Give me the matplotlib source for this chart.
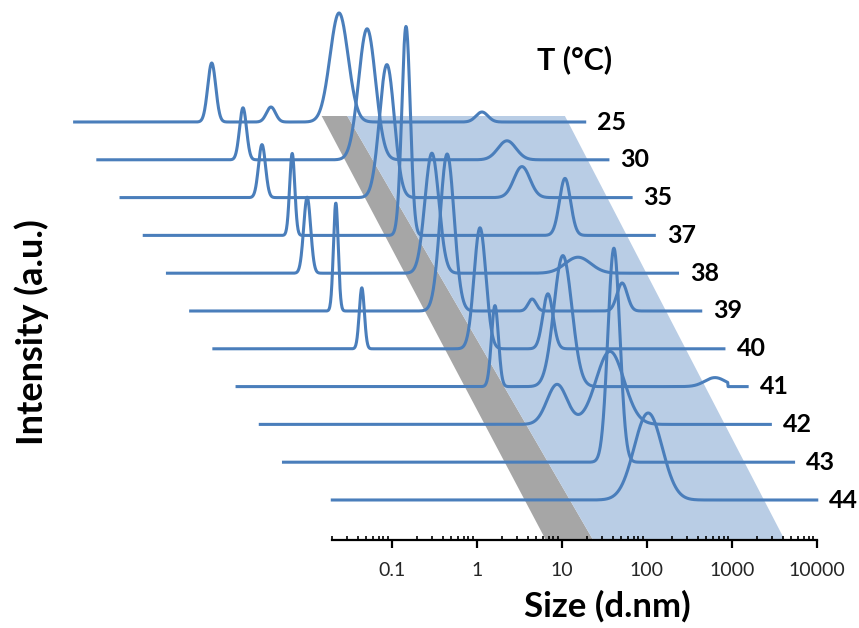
import numpy as np
import matplotlib.pyplot as plt

plt.rcParams['font.family'] = ['Lato', 'DejaVu Sans']

temps = ['25', '30', '35', '37', '38', '39', '40', '41', '42', '43', '44']

# peaks of each size distribution: (size in d.nm, intensity a.u., width in decades)
peaks = {
    '25': [(0.41, 59, 0.047), (2.04, 15, 0.053), (12.9, 109, 0.106), (619, 10, 0.07)],
    '30': [(0.51, 52, 0.041), (14.7, 131, 0.10), (650, 19, 0.106)],
    '35': [(0.455, 53, 0.041), (13.4, 133, 0.087), (520, 31, 0.094)],
    '37': [(0.55, 82, 0.03), (12.0, 209, 0.05), (890, 57, 0.065)],
    '38': [(0.44, 76, 0.041), (12.9, 120, 0.082), (675, 16, 0.15)],
    '39': [(0.51, 108, 0.028), (10.4, 157, 0.082), (104, 12, 0.047), (1190, 28, 0.06)],
    '40': [(0.55, 61, 0.03), (13.5, 121, 0.07), (85, 55, 0.06)],
    '41': [(10.8, 81, 0.041), (68, 131, 0.106), (4190, 9, 0.12)],
    '42': [(31, 40, 0.118), (130, 73, 0.165)],
    '43': [(77, 214, 0.07)],
    '44': [(104, 87, 0.165)],
}
# measured size window of each run (d.nm)
size_min = {t: 0.01 for t in temps}
size_min['44'] = 0.02
size_max = 10000
cutoff = {'41': 5960}

# waterfall offsets
row_step = 37.8
base0 = 40
shift_dec = 0.273

# shaded guide bands: sizes on the axis scale at the top and bottom edge
band_top = 424
grey_band = [(0.015, 0.03), (6.5, 23.4)]
blue_band = [(0.03, 10.9), (23.4, 4200)]

line_color = '#4a7ebb'

fig = plt.figure(figsize=(8.59, 6.28), dpi=100)
ax = fig.add_axes([0, 1 - 540 / 628, 1, 540 / 628])
ax.set_xscale('log')
ax.set_xlim(10 ** -5.608, 10 ** 4.497)
ax.set_ylim(0, 540)

for band, col in [(grey_band, '#a6a6a6'), (blue_band, '#b9cde5')]:
    (tl, tr), (bl, br) = band
    ax.fill([tl, tr, br, bl], [band_top, band_top, 0, 0], color=col, lw=0, zorder=1)

for i, t in enumerate(temps):
    depth = len(temps) - 1 - i
    factor = 10 ** (-depth * shift_dec)
    base = base0 + depth * row_step
    sizes = np.logspace(np.log10(size_min[t]), np.log10(size_max), 1500)
    inten = np.zeros_like(sizes)
    for s, h, w in peaks[t]:
        inten += h * np.exp(-0.5 * ((np.log10(sizes) - np.log10(s)) / w) ** 2)
    if t in cutoff:
        inten[sizes > cutoff[t]] = 0
    ax.plot(sizes * factor, base + inten, color=line_color, lw=2.2, zorder=3,
            solid_joinstyle='round')
    ax.annotate(t, (size_max * factor, base), xytext=(9, 0), textcoords='offset points',
                va='center', ha='left', fontsize=18, fontweight='bold')

for side in ['top', 'right', 'left']:
    ax.spines[side].set_visible(False)
ax.spines['bottom'].set_bounds(0.02, 10000)
ax.spines['bottom'].set_linewidth(1.6)
ax.set_yticks([])
ax.set_xticks([0.1, 1, 10, 100, 1000, 10000])
ax.set_xticklabels(['0.1', '1', '10', '100', '1000', '10000'])
ax.set_xticks([m * 10.0 ** d for d in range(-2, 4) for m in range(2, 10)], minor=True)
ax.tick_params(axis='x', which='major', direction='out', length=6, width=1.6,
               labelsize=14, pad=10, labelcolor='#262626')
ax.tick_params(axis='x', which='minor', direction='in', length=3, width=1.2)
ax.patch.set_alpha(0)

fig.text(607 / 859, 1 - 606 / 628, 'Size (d.nm)', ha='center', va='center',
         fontsize=25, fontweight='bold')
fig.text(32 / 859, 1 - 332 / 628, 'Intensity (a.u.)', ha='center', va='center',
         rotation=90, fontsize=26, fontweight='bold')
fig.text(575 / 859, 1 - 60 / 628, 'T (°C)', ha='center', va='center',
         fontsize=22, fontweight='bold')

fig.savefig('out.png', dpi=100)
